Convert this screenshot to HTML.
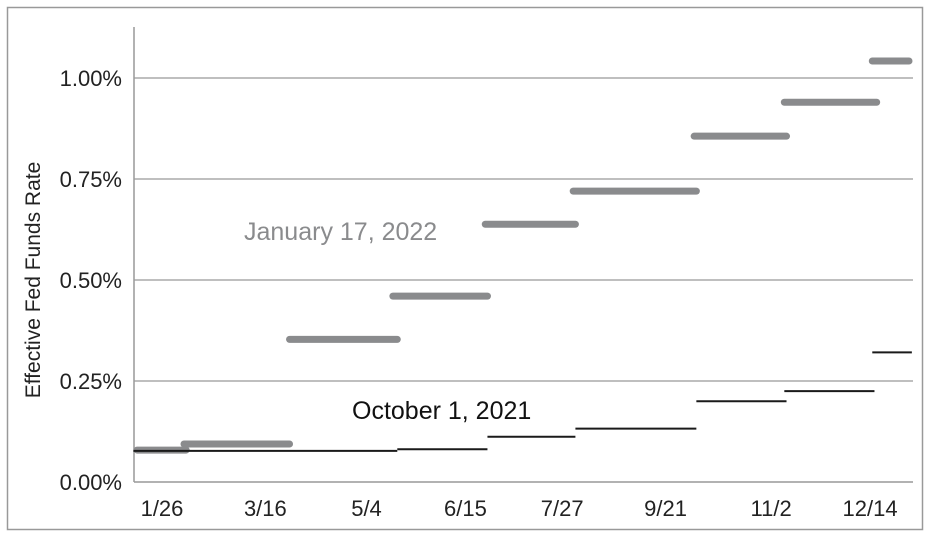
<!DOCTYPE html>
<html><head><meta charset="utf-8"><style>
html,body{margin:0;padding:0;background:#fff}
svg{display:block;font-family:"Liberation Sans",Arial,sans-serif}
</style></head><body>
<svg id="chart" width="930" height="537" viewBox="0 0 930 537" xmlns="http://www.w3.org/2000/svg">
<rect x="7.5" y="7.5" width="915" height="522" fill="#fff" stroke="#999" stroke-width="1.5"/>
<g id="grid"></g>
<g id="axes"></g>
<g id="marks"></g>
<text transform="translate(40,280) rotate(-90)" text-anchor="middle" font-size="21" fill="#222">Effective Fed Funds Rate</text>
<text x="244" y="240" font-size="25" fill="#8a8b8d">January 17, 2022</text>
<text x="352" y="419" font-size="25" fill="#111">October 1, 2021</text>
</svg>
<script>
const yTicks = [0, 0.25, 0.5, 0.75, 1.0];
const yTickLabels = ["0.00%", "0.25%", "0.50%", "0.75%", "1.00%"];
const xTickDays = [26, 73, 119, 164, 208, 255, 303, 348];
const xTickLabels = ["1/26", "3/16", "5/4", "6/15", "7/27", "9/21", "11/2", "12/14"];
const janStarts = [13, 36, 84, 131, 173, 213, 268, 309, 349];
const janEnds = [37, 84, 133, 174, 214, 269, 310, 351, 367];
const janValues = [0.079, 0.094, 0.353, 0.460, 0.638, 0.720, 0.856, 0.940, 1.042];
const octStarts = [13, 133, 174, 214, 269, 309, 349];
const octEnds = [133, 174, 214, 269, 310, 350, 367];
const octValues = [0.077, 0.081, 0.112, 0.132, 0.200, 0.225, 0.321];

const NS = "http://www.w3.org/2000/svg";
const X0 = 134, X1 = 913, Y0 = 482, YPER = 404;
function xs(d){ return 162 + (d - 26) * 2.199; }
function ys(v){ return Y0 - v * YPER; }
function mk(tag, attrs, parent){
  const el = document.createElementNS(NS, tag);
  for (const k in attrs) el.setAttribute(k, attrs[k]);
  parent.appendChild(el);
  return el;
}
const grid = document.getElementById('grid');
const axes = document.getElementById('axes');
const marks = document.getElementById('marks');

yTicks.forEach((v, i) => {
  if (v > 0) {
    const g = mk('line', {x1: X0, x2: X1, y1: ys(v), y2: ys(v), stroke: '#aaa', 'stroke-width': 1.5}, grid);
    
    
  }
  const t = mk('text', {x: 122, y: ys(v) + 8, 'text-anchor': 'end', 'font-size': 22, fill: '#222'}, axes);
  t.textContent = yTickLabels[i];
  
  
});
const ya = mk('line', {x1: X0, x2: X0, y1: 27, y2: Y0, stroke: '#999', 'stroke-width': 1.5}, axes);


const xa = mk('line', {x1: X0, x2: X1, y1: Y0, y2: Y0, stroke: '#999', 'stroke-width': 1.5}, axes);


xTickDays.forEach((d, i) => {
  const t = mk('text', {x: xs(d), y: 516, 'text-anchor': 'middle', 'font-size': 22, fill: '#222'}, axes);
  t.textContent = xTickLabels[i];
  
  
});
janValues.forEach((v, i) => {
  const l = mk('line', {x1: Math.max(xs(janStarts[i]), 137), x2: Math.min(xs(janEnds[i]), 909), y1: ys(v), y2: ys(v), stroke: '#8a8b8d', 'stroke-width': 7, 'stroke-linecap': 'round'}, marks);
  
  
});
octValues.forEach((v, i) => {
  const l = mk('line', {x1: xs(octStarts[i]), x2: xs(octEnds[i]), y1: ys(v), y2: ys(v), stroke: '#1a1a1a', 'stroke-width': 2}, marks);
  
  
});
</script>
</body></html>
